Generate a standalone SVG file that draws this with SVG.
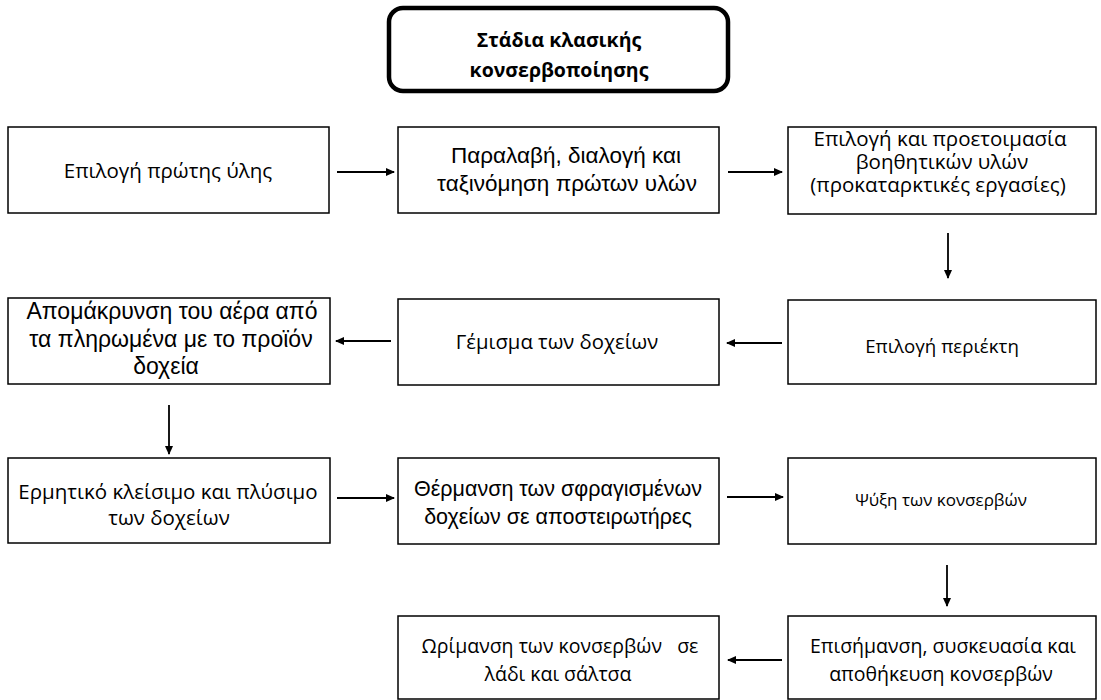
<svg xmlns="http://www.w3.org/2000/svg" width="1101" height="700" viewBox="0 0 1101 700">
<style>
.box{fill:#fff;stroke:#000;stroke-width:1.5}
.title{fill:#fff;stroke:#000;stroke-width:4.5}
text{text-anchor:middle;fill:#000}
.c{font-family:"Open Sans","Noto Sans",sans-serif;font-size:19.5px}
.a{font-family:"Liberation Sans",Arial,sans-serif;font-size:22.5px}
.t{font-family:"Open Sans","Noto Sans",sans-serif;font-size:19.5px;font-weight:bold}
.con{stroke:#000;stroke-width:1.8;fill:none;marker-end:url(#ah)}
</style>
<defs>
<marker id="ah" markerWidth="9" markerHeight="9" refX="8" refY="4.5" orient="auto" markerUnits="userSpaceOnUse">
<path d="M0,0.5 L9,4.5 L0,8.5 Z" fill="#000"/>
</marker>
</defs>
<rect width="1101" height="700" fill="#fff"/>
<g id="title">
<rect class="title" x="389" y="8" width="339" height="83" rx="14"/>
<text class="t" x="559" y="47">Στάδια κλασικής</text>
<text class="t" x="559" y="77">κονσερβοποίησης</text>
</g>
<g id="n1">
<rect class="box" x="8" y="127" width="321" height="86"/>
<text class="c" x="168" y="178" style="font-size:20.5px">Επιλογή πρώτης ύλης</text>
</g>
<g id="n2">
<rect class="box" x="398" y="127" width="321" height="86"/>
<text class="a" x="566" y="163">Παραλαβή, διαλογή και</text>
<text class="a" x="567" y="191">ταξινόμηση πρώτων υλών</text>
</g>
<g id="n3">
<rect class="box" x="788" y="127" width="308" height="87"/>
<text class="c" x="940" y="146" style="font-size:20.5px">Επιλογή και προετοιμασία</text>
<text class="c" x="942" y="169" style="font-size:20.5px">βοηθητικών υλών</text>
<text class="c" x="938" y="192" style="font-size:20.5px">(προκαταρκτικές εργασίες)</text>
</g>
<g id="n4">
<rect class="box" x="788" y="300" width="308" height="84"/>
<text class="c" x="942" y="353" style="font-size:18.7px">Επιλογή περιέκτη</text>
</g>
<g id="n5">
<rect class="box" x="398" y="299" width="321" height="86"/>
<text class="c" x="557" y="349" style="font-size:20.3px">Γέμισμα των δοχείων</text>
</g>
<g id="n6">
<rect class="box" x="8" y="298" width="322" height="86"/>
<text class="a" x="172" y="319" style="font-size:23px">Απομάκρυνση του αέρα από</text>
<text class="a" x="171" y="347" style="font-size:23px">τα πληρωμένα με το προϊόν</text>
<text class="a" x="166" y="374" style="font-size:23px">δοχεία</text>
</g>
<g id="n7">
<rect class="box" x="8" y="458" width="322" height="85"/>
<text class="c" x="168" y="499" style="font-size:20.5px">Ερμητικό κλείσιμο και πλύσιμο</text>
<text class="c" x="169" y="525" style="font-size:20.5px">των δοχείων</text>
</g>
<g id="n8">
<rect class="box" x="398" y="458" width="321" height="86"/>
<text class="a" x="558" y="496" style="font-size:21.5px">Θέρμανση των σφραγισμένων</text>
<text class="a" x="558" y="524" style="font-size:21.5px">δοχείων σε αποστειρωτήρες</text>
</g>
<g id="n9">
<rect class="box" x="788" y="458" width="308" height="86"/>
<text class="c" x="941" y="506" style="font-size:17px">Ψύξη των κονσερβών</text>
</g>
<g id="n10">
<rect class="box" x="788" y="616" width="308" height="83"/>
<text class="c" x="943" y="653">Επισήμανση, συσκευασία και</text>
<text class="c" x="941" y="681">αποθήκευση κονσερβών</text>
</g>
<g id="n11">
<rect class="box" x="398" y="616" width="321" height="83"/>
<text class="c" x="560" y="653" xml:space="preserve">Ωρίμανση των κονσερβών   σε</text>
<text class="c" x="558" y="681">λάδι και σάλτσα</text>
</g>
<g id="connectors">
<line class="con" x1="337" y1="172" x2="394" y2="172"/>
<line class="con" x1="728" y1="172" x2="782" y2="172"/>
<line class="con" x1="948" y1="233" x2="948" y2="278"/>
<line class="con" x1="782" y1="343" x2="727" y2="343"/>
<line class="con" x1="391" y1="341" x2="336" y2="341"/>
<line class="con" x1="169" y1="405" x2="169" y2="454"/>
<line class="con" x1="337" y1="498" x2="394" y2="498"/>
<line class="con" x1="727" y1="497" x2="783" y2="497"/>
<line class="con" x1="947" y1="565" x2="947" y2="606"/>
<line class="con" x1="782" y1="660" x2="728" y2="660"/>
</g>
</svg>
